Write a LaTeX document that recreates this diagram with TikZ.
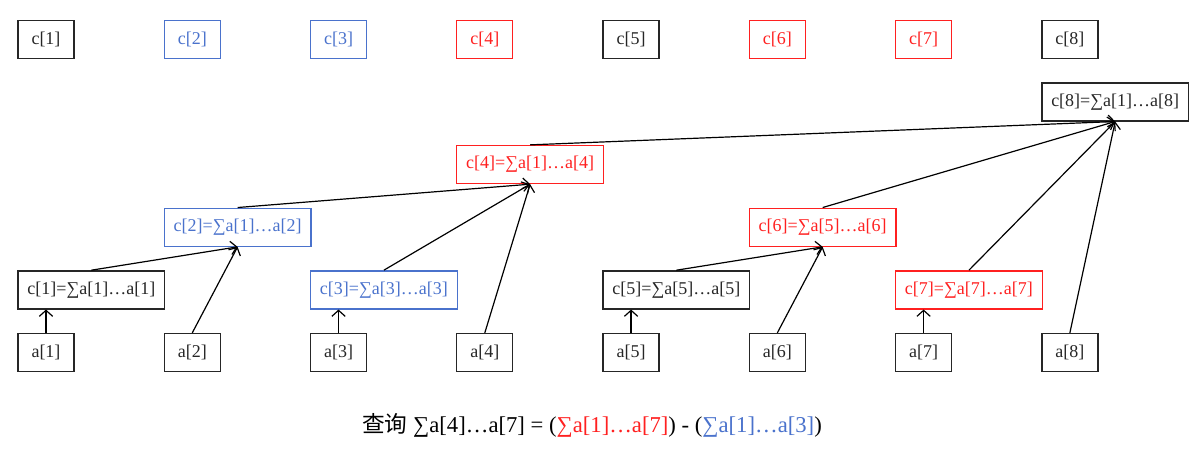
\documentclass[tikz,border=0pt]{standalone}
\usepackage{fontspec}
\setmainfont{Liberation Serif}
\newfontfamily\cjk{Noto Sans CJK SC}
\usetikzlibrary{arrows.meta,positioning}
\definecolor{boxblack}{HTML}{262626}
\definecolor{treeblue}{HTML}{4A72CC}
\definecolor{treered}{HTML}{FF2020}

\begin{document}
\begin{tikzpicture}[
    node distance=17.5pt and 66.7pt,
    box/.style={draw=#1,text=#1,line width=1pt,minimum height=28.5pt,minimum width=42pt,inner sep=2pt,font=\fontsize{13.5}{16}\selectfont},
    box/.default=boxblack,
    sumbox/.style={box=#1,minimum width=110pt},
    sumbox/.default=boxblack,
    arr/.style={-{Straight Barb[length=4.5pt,width=10pt]},line width=0.9pt,black}
]
\useasboundingbox (-34.5pt,-75.4pt) rectangle (864pt,264.4pt);

% bottom row
\node[box] (a1) at (0,0) {a[1]};
\node[box,right=of a1] (a2) {a[2]};
\node[box,right=of a2] (a3) {a[3]};
\node[box,right=of a3] (a4) {a[4]};
\node[box,right=of a4] (a5) {a[5]};
\node[box,right=of a5] (a6) {a[6]};
\node[box,right=of a6] (a7) {a[7]};
\node[box,right=of a7] (a8) {a[8]};

% partial sums
\node[sumbox,above=of a1.north west,anchor=south west] (s1) {c[1]=∑a[1]…a[1]};
\node[sumbox=treeblue,above=64.5pt of a2.north west,anchor=south west] (s2) {c[2]=∑a[1]…a[2]};
\node[sumbox=treeblue,above=of a3.north west,anchor=south west] (s3) {c[3]=∑a[3]…a[3]};
\node[sumbox=treered,above=111.5pt of a4.north west,anchor=south west] (s4) {c[4]=∑a[1]…a[4]};
\node[sumbox,above=of a5.north west,anchor=south west] (s5) {c[5]=∑a[5]…a[5]};
\node[sumbox=treered,above=64.5pt of a6.north west,anchor=south west] (s6) {c[6]=∑a[5]…a[6]};
\node[sumbox=treered,above=of a7.north west,anchor=south west] (s7) {c[7]=∑a[7]…a[7]};
\node[sumbox,above=158.5pt of a8.north west,anchor=south west] (s8) {c[8]=∑a[1]…a[8]};

% top row
\node[box,above=of s8.north west,anchor=south west] (c8) {c[8]};
\node[box=treered,left=of c8] (c7) {c[7]};
\node[box=treered,left=of c7] (c6) {c[6]};
\node[box,left=of c6] (c5) {c[5]};
\node[box=treered,left=of c5] (c4) {c[4]};
\node[box=treeblue,left=of c4] (c3) {c[3]};
\node[box=treeblue,left=of c3] (c2) {c[2]};
\node[box,left=of c2] (c1) {c[1]};

\draw[arr] (a1.north) -- (a1.north |- s1.south);
\draw[arr] (a3.north) -- (a3.north |- s3.south);
\draw[arr] (a5.north) -- (a5.north |- s5.south);
\draw[arr] (a7.north) -- (a7.north |- s7.south);
\draw[arr] (s1.north) -- (s2.south);
\draw[arr] (a2.north) -- (s2.south);
\draw[arr] (s2.north) -- (s4.south);
\draw[arr] (s3.north) -- (s4.south);
\draw[arr] (a4.north) -- (s4.south);
\draw[arr] (s5.north) -- (s6.south);
\draw[arr] (a6.north) -- (s6.south);
\draw[arr] (s4.north) -- (s8.south);
\draw[arr] (s6.north) -- (s8.south);
\draw[arr] (s7.north) -- (s8.south);
\draw[arr] (a8.north) -- (s8.south);

\node[font=\fontsize{17}{20}\selectfont] (query) at (409.5pt,-54.4pt)
    {{\cjk 查询} ∑a[4]…a[7] = ({\color{treered}∑a[1]…a[7]}) - ({\color{treeblue}∑a[1]…a[3]})};
\end{tikzpicture}
\end{document}
